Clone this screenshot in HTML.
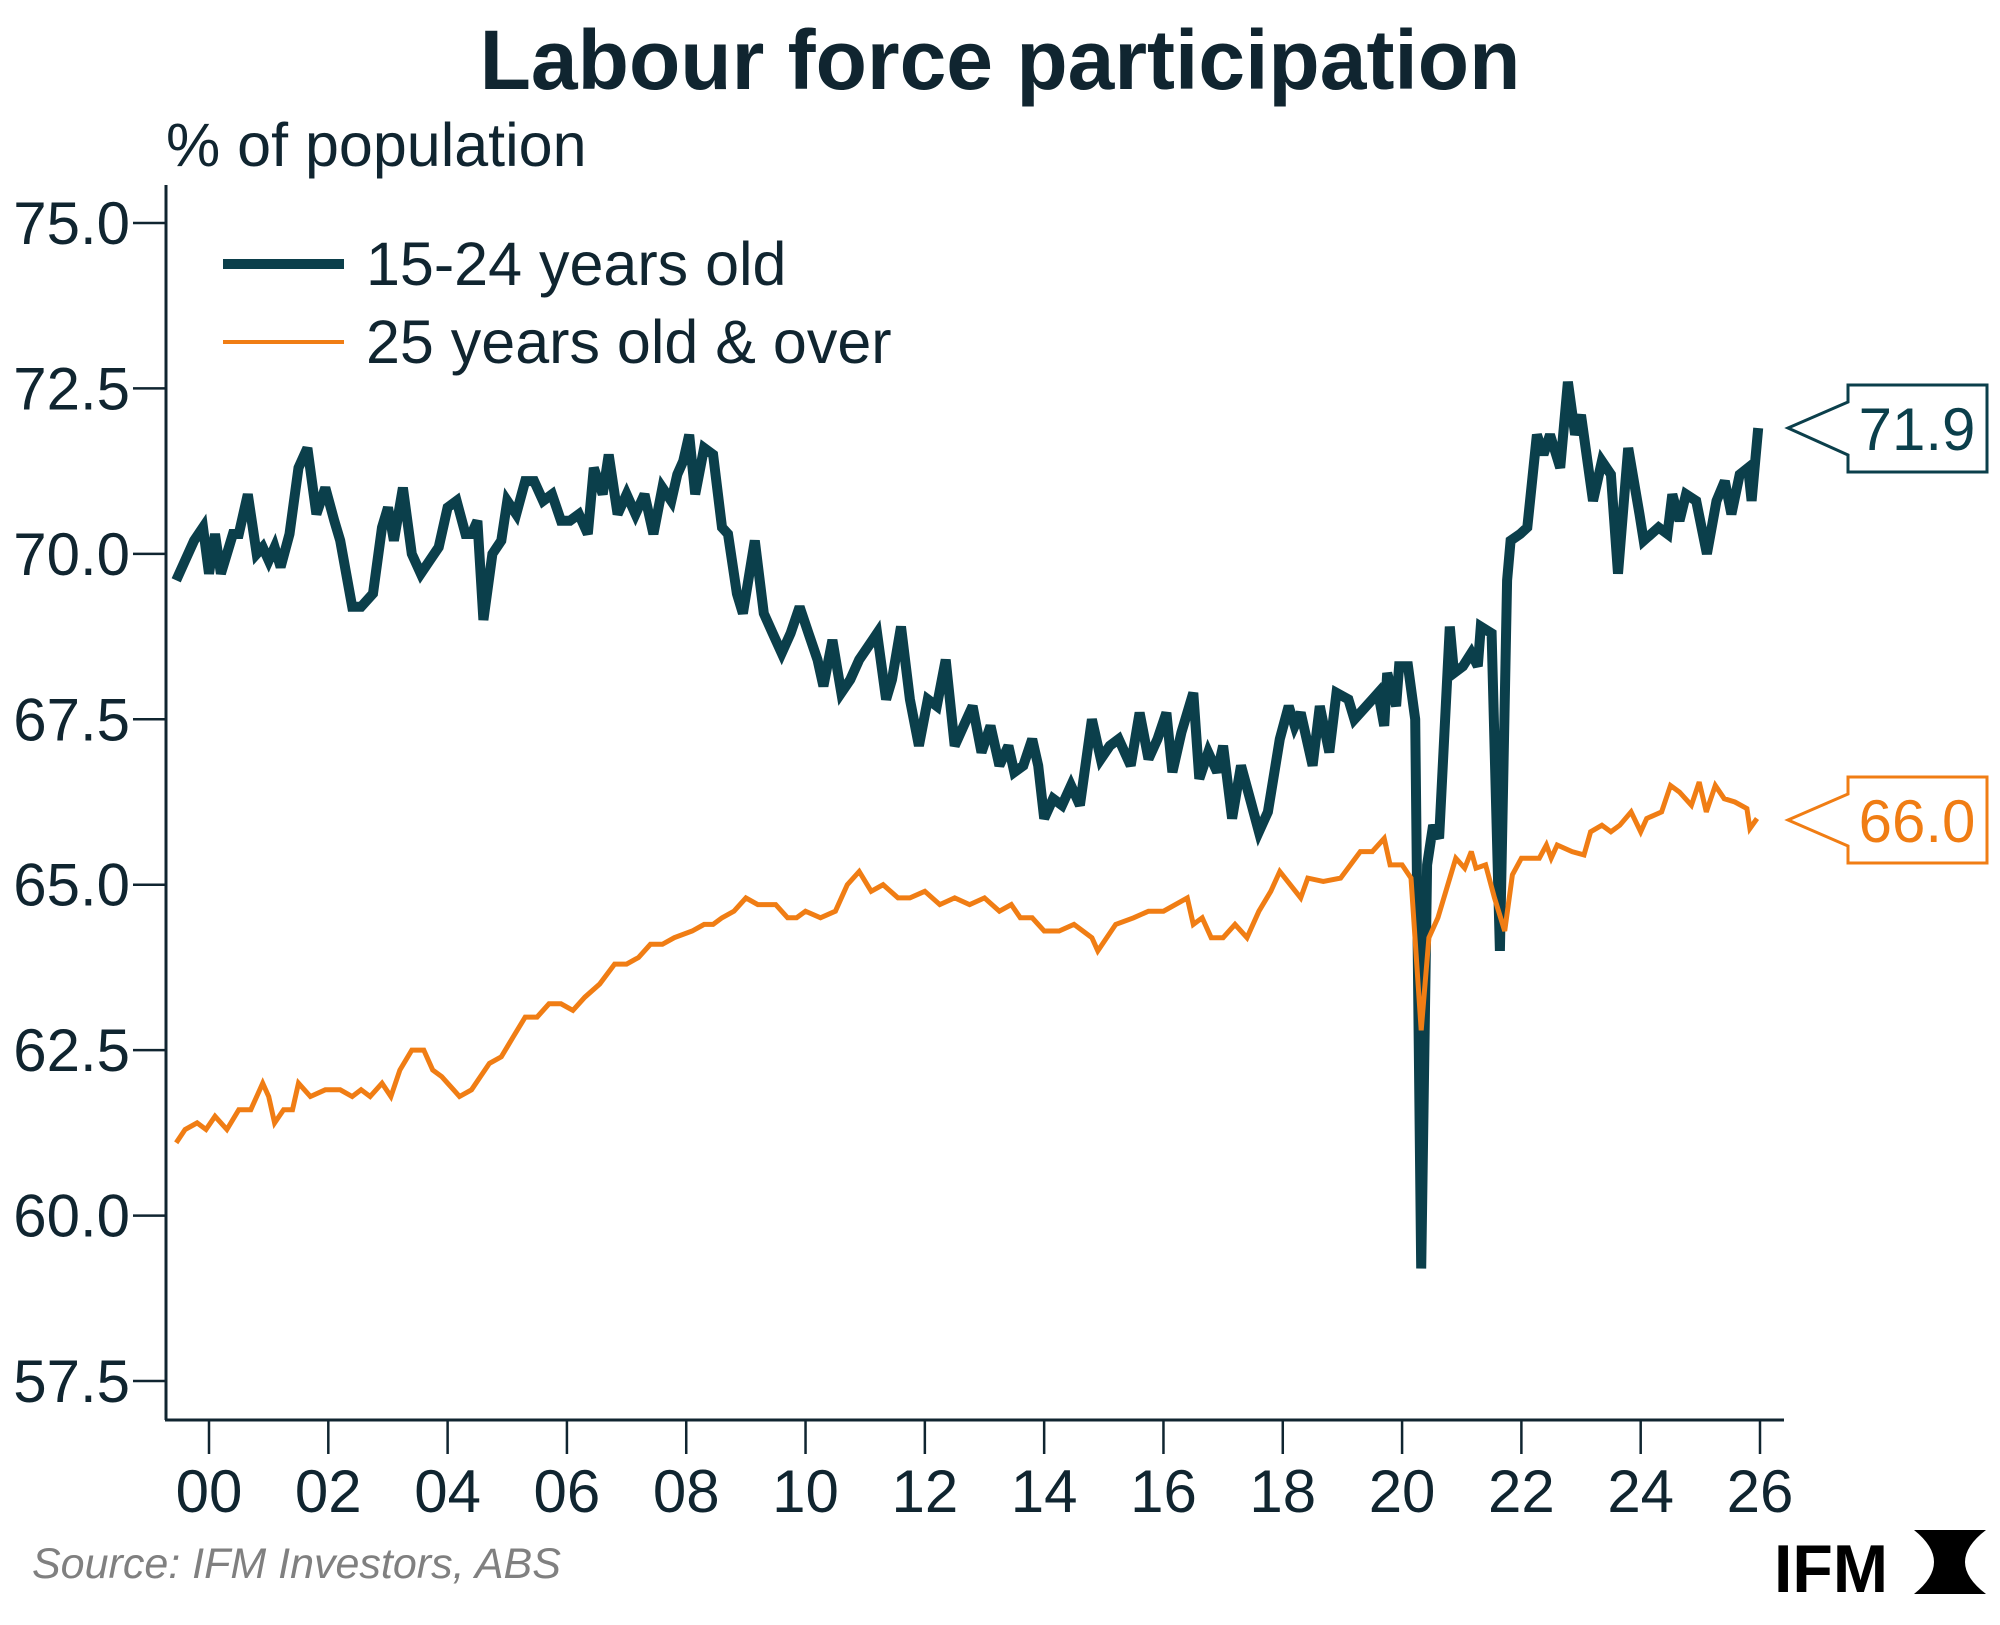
<!DOCTYPE html>
<html><head><meta charset="utf-8"><style>
body{margin:0;background:#fff;}
svg{display:block;font-family:"Liberation Sans",sans-serif;}
</style></head><body>
<svg id="chart" width="2000" height="1625" viewBox="0 0 2000 1625">
<text x="1000" y="89" text-anchor="middle" font-size="84" font-weight="bold" fill="#102530">Labour force participation</text>
<text x="166" y="166" font-size="61" fill="#102530">% of population</text>
<g id="axes"></g>
<g id="series"></g>
<g>
<line x1="223" y1="264" x2="344" y2="264" stroke="#0b3f4b" stroke-width="10"/>
<text x="366" y="285" font-size="61" fill="#102530">15-24 years old</text>
<line x1="223" y1="342" x2="344" y2="342" stroke="#f07d14" stroke-width="4"/>
<text x="366" y="363" font-size="61" fill="#102530">25 years old &amp; over</text>
</g>
<g>
<path d="M1788,428 L1848,402 L1848,385 L1987,385 L1987,472 L1848,472 L1848,455 Z" fill="#fff" stroke="#0b3f4b" stroke-width="3"/>
<text x="1917" y="450" text-anchor="middle" font-size="60" fill="#0b3f4b">71.9</text>
</g>
<g>
<path d="M1788,820 L1848,794 L1848,777 L1987,777 L1987,863 L1848,863 L1848,846 Z" fill="#fff" stroke="#f07d14" stroke-width="3"/>
<text x="1917" y="842" text-anchor="middle" font-size="60" fill="#f07d14">66.0</text>
</g>
<text x="32" y="1578" font-size="43" font-style="italic" fill="#808080">Source: IFM Investors, ABS</text>
<g>
<text x="1774" y="1592" font-size="68" font-weight="bold" fill="#000" textLength="114" lengthAdjust="spacingAndGlyphs">IFM</text>
<path d="M1914,1530 L1986,1530 Q1944,1562 1986,1594 L1914,1594 Q1954,1562 1914,1530 Z" fill="#000"/>
</g>
</svg>
<script>
const yTicks=[57.5,60.0,62.5,65.0,67.5,70.0,72.5,75.0];
const xTicks=[2000,2002,2004,2006,2008,2010,2012,2014,2016,2018,2020,2022,2024,2026];
const xTickLabels=["00","02","04","06","08","10","12","14","16","18","20","22","24","26"];
const youthT=[
1999.45,1999.6,1999.75,1999.9,
2000.0,2000.1,2000.2,2000.3,2000.4,2000.5,2000.65,2000.8,2000.9,
2001.0,2001.1,2001.2,2001.35,2001.5,2001.65,2001.8,2001.95,
2002.1,2002.2,2002.4,2002.55,2002.75,2002.9,
2003.0,2003.1,2003.25,2003.4,2003.55,2003.7,2003.85,
2004.0,2004.15,2004.3,2004.4,2004.5,2004.6,2004.75,2004.9,
2005.0,2005.15,2005.3,2005.45,2005.6,2005.75,2005.9,
2006.05,2006.2,2006.35,2006.45,2006.6,2006.7,2006.85,
2007.0,2007.15,2007.3,2007.45,2007.6,2007.75,2007.85,2007.95,
2008.05,2008.15,2008.3,2008.45,2008.6,2008.7,2008.85,2008.95,
2009.15,2009.3,2009.45,2009.6,2009.75,2009.9,
2010.05,2010.2,2010.3,2010.45,2010.6,2010.75,2010.9,
2011.05,2011.2,2011.35,2011.45,2011.6,2011.75,2011.9,
2012.05,2012.2,2012.35,2012.5,2012.65,2012.8,2012.95,
2013.1,2013.25,2013.4,2013.5,2013.65,2013.8,2013.9,
2014.0,2014.15,2014.3,2014.45,2014.6,2014.8,2014.95,
2015.1,2015.25,2015.45,2015.6,2015.75,2015.9,
2016.05,2016.15,2016.3,2016.5,2016.6,2016.75,2016.9,
2017.0,2017.15,2017.3,2017.45,2017.6,2017.75,2017.95,
2018.1,2018.2,2018.3,2018.5,2018.62,2018.78,2018.9,
2019.1,2019.2,2019.4,2019.5,2019.6,2019.7,2019.75,2019.9,2019.95,
2020.1,2020.22,2020.32,2020.42,2020.52,2020.62,2020.8,2020.87,
2021.02,2021.16,2021.27,2021.32,2021.5,2021.64,2021.76,2021.82,2021.98,
2022.1,2022.26,2022.37,2022.48,2022.65,2022.78,2022.9,
2023.0,2023.2,2023.35,2023.5,2023.62,2023.79,2023.98,
2024.05,2024.3,2024.45,2024.53,2024.65,2024.76,2024.93,
2025.11,2025.27,2025.41,2025.52,2025.66,2025.8,2025.86,2025.97];
const youthV=[
69.6,69.9,70.2,70.4,
69.7,70.3,69.7,70.0,70.3,70.3,70.9,70.0,70.1,
69.9,70.1,69.8,70.3,71.3,71.6,70.6,71.0,
70.5,70.2,69.2,69.2,69.4,70.4,
70.7,70.2,71.0,70.0,69.7,69.9,70.1,
70.7,70.8,70.3,70.3,70.5,69.0,70.0,70.2,
70.8,70.6,71.1,71.1,70.8,70.9,70.5,
70.5,70.6,70.3,71.3,70.9,71.5,70.6,
70.9,70.6,70.9,70.3,71.0,70.8,71.2,71.4,
71.8,70.9,71.6,71.5,70.4,70.3,69.4,69.1,
70.2,69.1,68.8,68.5,68.8,69.2,
68.8,68.4,68.0,68.7,67.9,68.1,68.4,
68.6,68.8,67.8,68.1,68.9,67.8,67.1,
67.8,67.7,68.4,67.1,67.4,67.7,67.0,
67.4,66.8,67.1,66.7,66.8,67.2,66.8,
66.0,66.3,66.2,66.5,66.2,67.5,66.9,
67.1,67.2,66.8,67.6,66.9,67.2,
67.6,66.7,67.3,67.9,66.6,67.0,66.7,
67.1,66.0,66.8,66.3,65.8,66.1,67.2,
67.7,67.4,67.6,66.8,67.7,67.0,67.9,
67.8,67.5,67.7,67.8,67.9,67.4,68.2,67.7,68.3,
68.3,67.5,59.2,65.3,65.9,65.7,68.9,68.2,
68.3,68.5,68.3,68.9,68.8,64.0,69.6,70.2,70.3,
70.4,71.8,71.5,71.8,71.3,72.6,71.8,
72.1,70.8,71.4,71.2,69.7,71.6,70.6,
70.2,70.4,70.3,70.9,70.5,70.9,70.8,
70.0,70.8,71.1,70.6,71.2,71.3,70.8,71.9];
const adultT=[
1999.45,1999.6,1999.8,1999.95,
2000.1,2000.3,2000.5,2000.7,2000.9,
2001.0,2001.1,2001.25,2001.4,2001.5,2001.7,2001.95,
2002.2,2002.4,2002.55,2002.7,2002.9,
2003.05,2003.2,2003.4,2003.6,2003.75,2003.9,
2004.0,2004.1,2004.2,2004.4,2004.55,2004.7,2004.9,
2005.1,2005.3,2005.5,2005.7,2005.9,
2006.1,2006.3,2006.55,2006.8,
2007.0,2007.2,2007.4,2007.6,2007.8,
2008.1,2008.3,2008.45,2008.6,2008.8,
2009.0,2009.2,2009.5,2009.7,2009.85,
2010.0,2010.25,2010.5,2010.7,2010.9,
2011.1,2011.3,2011.55,2011.75,
2012.0,2012.25,2012.5,2012.75,
2013.0,2013.25,2013.45,2013.6,2013.8,
2014.0,2014.25,2014.5,2014.65,2014.8,2014.9,
2015.2,2015.5,2015.75,
2016.0,2016.2,2016.4,2016.5,2016.65,2016.8,
2017.0,2017.2,2017.4,2017.6,2017.8,
2017.95,2018.3,2018.42,2018.68,2018.97,
2019.3,2019.5,2019.7,2019.8,2020.0,
2020.15,2020.32,2020.45,2020.6,2020.8,2020.9,
2021.05,2021.16,2021.24,2021.4,2021.55,2021.72,2021.85,
2022.0,2022.3,2022.42,2022.5,2022.6,2022.85,
2023.05,2023.16,2023.35,2023.5,2023.65,2023.84,
2024.0,2024.1,2024.35,2024.5,2024.65,2024.85,2024.98,
2025.1,2025.25,2025.4,2025.58,2025.78,2025.83,2025.95];
const adultV=[
61.1,61.3,61.4,61.3,
61.5,61.3,61.6,61.6,62.0,
61.8,61.4,61.6,61.6,62.0,61.8,61.9,
61.9,61.8,61.9,61.8,62.0,
61.8,62.2,62.5,62.5,62.2,62.1,
62.0,61.9,61.8,61.9,62.1,62.3,62.4,
62.7,63.0,63.0,63.2,63.2,
63.1,63.3,63.5,63.8,
63.8,63.9,64.1,64.1,64.2,
64.3,64.4,64.4,64.5,64.6,
64.8,64.7,64.7,64.5,64.5,
64.6,64.5,64.6,65.0,65.2,
64.9,65.0,64.8,64.8,
64.9,64.7,64.8,64.7,
64.8,64.6,64.7,64.5,64.5,
64.3,64.3,64.4,64.3,64.2,64.0,
64.4,64.5,64.6,
64.6,64.7,64.8,64.4,64.5,64.2,
64.2,64.4,64.2,64.6,64.9,
65.2,64.8,65.1,65.05,65.1,
65.5,65.5,65.7,65.3,65.3,
65.1,62.8,64.2,64.5,65.1,65.4,
65.25,65.5,65.25,65.3,64.8,64.3,65.15,
65.4,65.4,65.6,65.4,65.6,65.5,
65.45,65.8,65.9,65.8,65.9,66.1,
65.8,66.0,66.1,66.5,66.4,66.2,66.55,
66.1,66.5,66.3,66.25,66.15,65.85,66.0];

const NS='http://www.w3.org/2000/svg';
const X0=209,X1=1760,Y0=1381,Y1=223;
function xs(t){return X0+(t-2000)/26*(X1-X0);}
function ys(v){return Y0-(v-57.5)/17.5*(Y0-Y1);}
function mk(tag,attrs,parent){const e=document.createElementNS(NS,tag);for(const k in attrs)e.setAttribute(k,attrs[k]);parent.appendChild(e);return e;}
const axes=document.getElementById('axes');
const yAxis=mk('line',{x1:166,y1:185,x2:166,y2:1420,stroke:'#102530','stroke-width':3},axes);


const xAxis=mk('line',{x1:165,y1:1420,x2:1784,y2:1420,stroke:'#102530','stroke-width':3},axes);


yTicks.forEach(v=>{
  const y=ys(v);
  mk('line',{x1:133,y1:y,x2:166,y2:y,stroke:'#102530','stroke-width':2.5},axes);
  const t=mk('text',{x:130,y:y+21,'text-anchor':'end','font-size':60,fill:'#102530'},axes);
  t.textContent=v.toFixed(1);
  
  
});
xTicks.forEach((yr,i)=>{
  const x=xs(yr);
  mk('line',{x1:x,y1:1420,x2:x,y2:1454,stroke:'#102530','stroke-width':2.5},axes);
  const t=mk('text',{x:x,y:1512,'text-anchor':'middle','font-size':60,fill:'#102530'},axes);
  t.textContent=xTickLabels[i];
  
  
});
const ser=document.getElementById('series');
function line(T,V,color,w,name){
  const n=Math.min(T.length,V.length);
  let d='';
  for(let i=0;i<n;i++){d+=(i?'L':'M')+xs(T[i]).toFixed(1)+','+ys(V[i]).toFixed(1)+' ';}
  const p=mk('path',{d:d,fill:'none',stroke:color,'stroke-width':w,'stroke-linejoin':'miter','stroke-miterlimit':3},ser);
  
  
}
line(youthT,youthV,'#0b3f4b',10,'line-15-24');
line(adultT,adultV,'#f07d14',5,'line-25-and-over');
</script>
</body></html>
